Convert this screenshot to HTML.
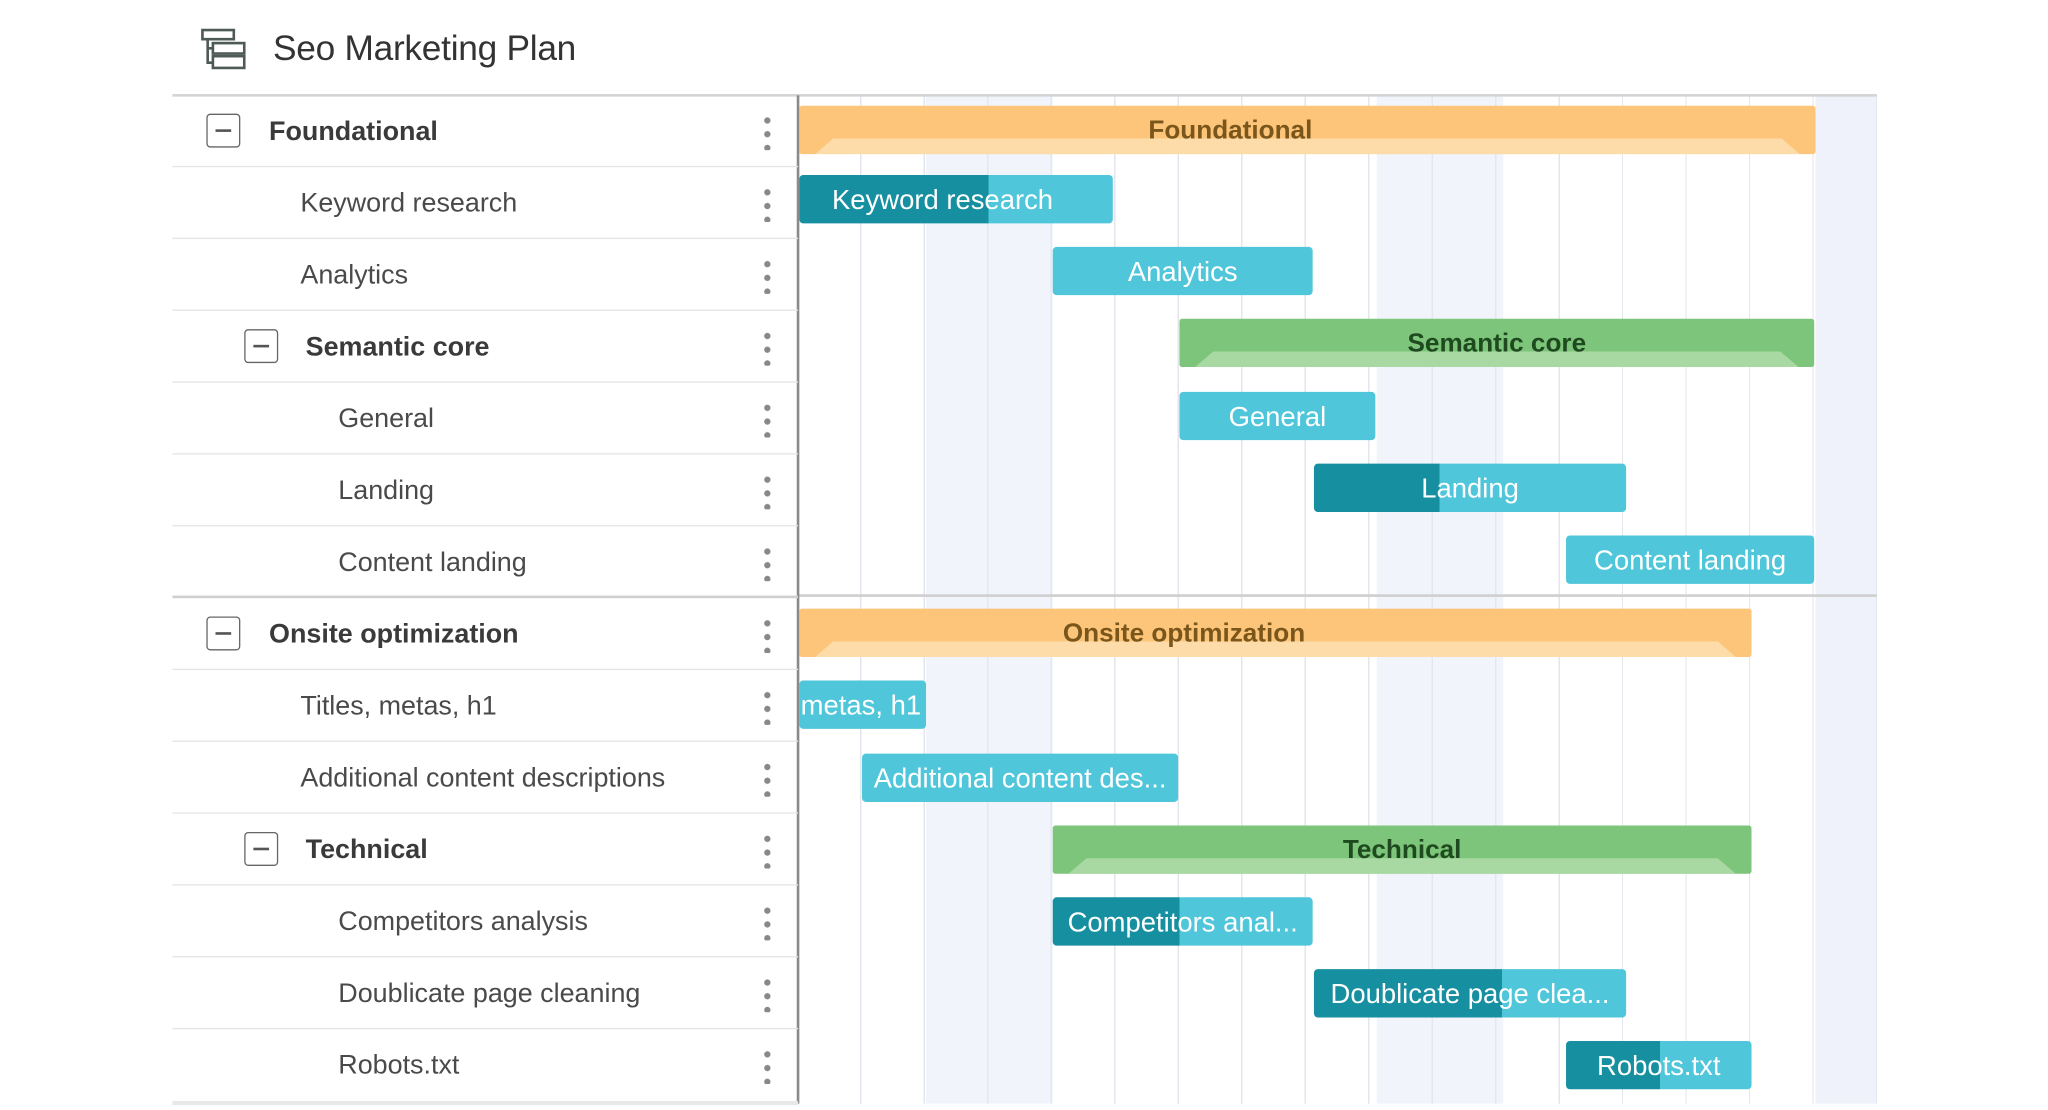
<!DOCTYPE html>
<html><head><meta charset="utf-8"><style>
html,body{margin:0;padding:0;background:#fff;width:2048px;height:1109px;overflow:hidden}
#s{position:absolute;left:0;top:0;width:1568px;height:850px;transform:scale(1.30612);transform-origin:0 0;font-family:"Liberation Sans",Arial,sans-serif}
.a{position:absolute}
.row{position:absolute;left:132px;width:479px;height:55px;border-bottom:1.5px solid #e4e4e4;box-sizing:border-box}
.lt{position:absolute;top:0;line-height:55px;font-size:20.6px;color:#4a4a4a;white-space:nowrap}
.b{font-weight:bold;color:#3a3a3a}
.box{position:absolute;top:14px;width:26px;height:26px;border:1.5px solid #666;border-radius:3px;box-sizing:border-box}
.box:after{content:"";position:absolute;left:6px;right:6px;top:11px;height:1.5px;background:#555}
.dots{position:absolute;left:453px;top:14px;width:5px;height:28px;background:radial-gradient(circle,#888 2.2px,transparent 2.6px) 0 0/5px 10.5px repeat-y}
.bar{position:absolute;height:37px;border-radius:3px;color:#fff;font-size:21px;line-height:40px;text-align:center;white-space:nowrap;overflow:hidden;background:#4fc6da}
.sum{position:absolute;height:37px;line-height:38px;text-align:center;font-size:20px;font-weight:bold;border-radius:2px;overflow:hidden}
.sum i{position:absolute;left:12px;right:12px;bottom:0;height:12px;clip-path:polygon(14px 0,calc(100% - 14px) 0,100% 100%,0 100%)}
.sum span{position:relative}
</style></head><body><div id="s">
<svg class="a" style="left:152px;top:20px" width="40" height="36" viewBox="0 0 40 36">
<g fill="none" stroke="#4d5a55" stroke-width="2"><rect x="3" y="3" width="24" height="7"/><rect x="11" y="13" width="24" height="8"/><rect x="11" y="23" width="24" height="9"/><path d="M7 10V28H11M7 17H11"/></g></svg>
<div class="a" style="left:209px;top:22px;font-size:27px;color:#333;letter-spacing:-0.2px">Seo Marketing Plan</div>
<div class="a" style="left:611px;top:73px;width:826px;height:772px;background:
repeating-linear-gradient(90deg,transparent 0,transparent 47.6px,#e3e6ec 47.6px,#e3e6ec 48.6px);"></div>
<div class="a" style="left:709px;top:73px;width:97px;height:772px;background:rgba(225,232,246,.45)"></div>
<div class="a" style="left:1054px;top:73px;width:97px;height:772px;background:rgba(225,232,246,.45)"></div>
<div class="a" style="left:1390px;top:73px;width:47px;height:772px;background:rgba(225,232,246,.55)"></div>
<div class="a" style="left:132px;top:72px;width:1305px;height:2px;background:#d4d4d4"></div>
<div class="a" style="left:611px;top:455px;width:826px;height:2px;background:#cfcfcf"></div>
<div class="a" style="left:610px;top:73px;width:2px;height:772px;background:#8a8a8a"></div>
<div class="a" style="left:132px;top:843px;width:479px;height:3px;background:#e8e8e8"></div>
<div class="row" style="top:73px"><div class="box" style="left:26px"></div><div class="lt b" style="left:74px">Foundational</div><div class="dots"></div></div>
<div class="row" style="top:128px"><div class="lt" style="left:98px">Keyword research</div><div class="dots"></div></div>
<div class="row" style="top:183px"><div class="lt" style="left:98px">Analytics</div><div class="dots"></div></div>
<div class="row" style="top:238px"><div class="box" style="left:55px"></div><div class="lt b" style="left:102px">Semantic core</div><div class="dots"></div></div>
<div class="row" style="top:293px"><div class="lt" style="left:127px">General</div><div class="dots"></div></div>
<div class="row" style="top:348px"><div class="lt" style="left:127px">Landing</div><div class="dots"></div></div>
<div class="row" style="top:403px;border-bottom:2px solid #cfcfcf"><div class="lt" style="left:127px">Content landing</div><div class="dots"></div></div>
<div class="row" style="top:458px"><div class="box" style="left:26px"></div><div class="lt b" style="left:74px">Onsite optimization</div><div class="dots"></div></div>
<div class="row" style="top:513px"><div class="lt" style="left:98px">Titles, metas, h1</div><div class="dots"></div></div>
<div class="row" style="top:568px"><div class="lt" style="left:98px">Additional content descriptions</div><div class="dots"></div></div>
<div class="row" style="top:623px"><div class="box" style="left:55px"></div><div class="lt b" style="left:102px">Technical</div><div class="dots"></div></div>
<div class="row" style="top:678px"><div class="lt" style="left:127px">Competitors analysis</div><div class="dots"></div></div>
<div class="row" style="top:733px"><div class="lt" style="left:127px">Doublicate page cleaning</div><div class="dots"></div></div>
<div class="row" style="top:788px;border-bottom:none"><div class="lt" style="left:127px">Robots.txt</div><div class="dots"></div></div>
<div class="sum" style="left:612px;top:81px;width:778px;background:#fcc579;color:#7a561a"><i style="background:#fddcaa"></i><span style="left:-59px">Foundational</span></div>
<div class="bar" style="left:612px;top:134px;width:240px;background:linear-gradient(90deg,#168fa0 0,#168fa0 145px,#4fc6da 145px);text-align:left;padding-left:25px;box-sizing:border-box">Keyword research</div>
<div class="bar" style="left:806px;top:189px;width:199px">Analytics</div>
<div class="sum" style="left:903px;top:244px;width:486px;background:#7dc57a;color:#1f4a1f"><i style="background:#a9d9a2"></i><span>Semantic core</span></div>
<div class="bar" style="left:903px;top:300px;width:150px">General</div>
<div class="bar" style="left:1006px;top:355px;width:239px;background:linear-gradient(90deg,#168fa0 0,#168fa0 96px,#4fc6da 96px)">Landing</div>
<div class="bar" style="left:1199px;top:410px;width:190px">Content landing</div>
<div class="sum" style="left:612px;top:466px;width:729px;background:#fcc579;color:#7a561a"><i style="background:#fddcaa"></i><span style="left:-70px">Onsite optimization</span></div>
<div class="bar" style="left:612px;top:521px;width:97px;text-align:left;padding-left:1px;box-sizing:border-box">metas, h1</div>
<div class="bar" style="left:660px;top:577px;width:242px">Additional content des...</div>
<div class="sum" style="left:806px;top:632px;width:535px;background:#7dc57a;color:#1f4a1f"><i style="background:#a9d9a2"></i><span>Technical</span></div>
<div class="bar" style="left:806px;top:687px;width:199px;background:linear-gradient(90deg,#168fa0 0,#168fa0 97px,#4fc6da 97px)">Competitors anal...</div>
<div class="bar" style="left:1006px;top:742px;width:239px;background:linear-gradient(90deg,#168fa0 0,#168fa0 144px,#4fc6da 144px)">Doublicate page clea...</div>
<div class="bar" style="left:1199px;top:797px;width:142px;background:linear-gradient(90deg,#168fa0 0,#168fa0 72px,#4fc6da 72px)">Robots.txt</div>
</div></body></html>
